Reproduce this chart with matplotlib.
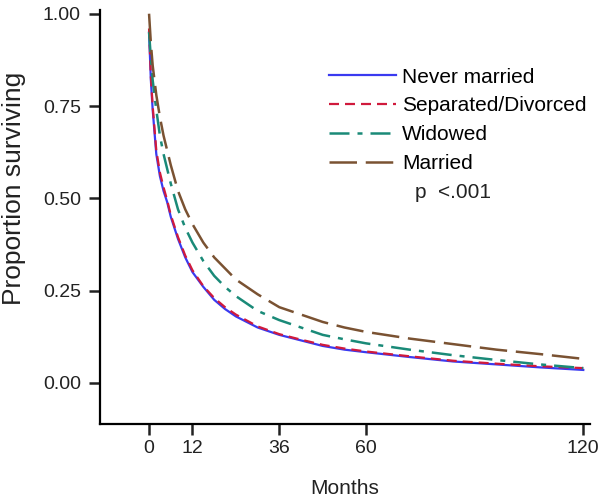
import matplotlib.pyplot as plt

plt.rcParams['font.family'] = ['Liberation Sans', 'DejaVu Sans']

# survival estimates
months = [0, 0.5, 1, 2, 3, 4, 5, 6, 8, 10, 12, 15, 18, 21, 24, 30, 36, 42, 48,
          54, 60, 72, 84, 96, 108, 120]
never_married = [0.95, 0.82, 0.74, 0.62, 0.56, 0.52, 0.49, 0.45, 0.39, 0.34, 0.30,
                 0.26, 0.225, 0.20, 0.18, 0.15, 0.13, 0.115, 0.10, 0.09, 0.083,
                 0.07, 0.058, 0.05, 0.042, 0.035]
separated = [0.96, 0.83, 0.75, 0.63, 0.57, 0.53, 0.495, 0.455, 0.395, 0.345, 0.305,
             0.262, 0.23, 0.205, 0.185, 0.153, 0.132, 0.117, 0.103, 0.093, 0.085,
             0.072, 0.06, 0.052, 0.045, 0.04]
widowed = [0.95, 0.88, 0.82, 0.74, 0.67, 0.62, 0.58, 0.54, 0.47, 0.42, 0.38,
           0.33, 0.29, 0.26, 0.235, 0.195, 0.17, 0.15, 0.13, 0.118, 0.107,
           0.09, 0.075, 0.062, 0.05, 0.04]
married = [1.0, 0.92, 0.86, 0.78, 0.72, 0.67, 0.63, 0.59, 0.52, 0.47, 0.43,
           0.38, 0.34, 0.31, 0.28, 0.24, 0.205, 0.185, 0.165, 0.15, 0.138,
           0.12, 0.105, 0.09, 0.078, 0.065]
labels = ['Never married', 'Separated/Divorced', 'Widowed', 'Married']
xticks = [0, 12, 36, 60, 120]
yticks = [0.0, 0.25, 0.5, 0.75, 1.0]

fig = plt.figure(figsize=(6, 5.01), dpi=100)
ax = fig.add_axes([0.167, 0.154, 0.816, 0.826])

ax.plot(months, never_married, color='#3a3af0', lw=1.6, ls='-', label=labels[0])
ax.plot(months, separated, color='#d01a3c', lw=1.6, ls=(0, (4.5, 2.7)), label=labels[1])
ax.plot(months, widowed, color='#1a8a78', lw=1.8, ls=(0, (8, 3.2, 2, 3.2)), label=labels[2])
ax.plot(months, married, color='#7a5232', lw=1.8, ls=(0, (11, 3.5)), label=labels[3])

ax.set_xlim(-13.5, 121.8)
ax.set_ylim(-0.111, 1.01)
ax.set_xticks(xticks)
ax.set_yticks(yticks)
ax.set_yticklabels([f'{v:.2f}' for v in yticks])
ax.spines['top'].set_visible(False)
ax.spines['right'].set_visible(False)
for s in ('left', 'bottom'):
    ax.spines[s].set_linewidth(1.6)
ax.tick_params(direction='out', length=8, width=1.8, labelsize=14, colors='#222222')
ax.tick_params(axis='y', pad=6)
ax.set_xlabel('Months', fontsize=15, color='#222222', labelpad=16)
ax.set_ylabel('Proportion surviving', fontsize=19, color='#222222')
ax.yaxis.set_label_coords(-0.152, 0.57)

leg = ax.legend(loc='upper left', bbox_to_anchor=(0.43, 0.906), frameon=False,
                fontsize=15, handlelength=3.2, handletextpad=0.3, labelspacing=0.47)
ax.text(0.643, 0.558, 'p  <.001', transform=ax.transAxes, fontsize=15,
        color='#222222', va='center')

fig.savefig('out.png', dpi=100)
